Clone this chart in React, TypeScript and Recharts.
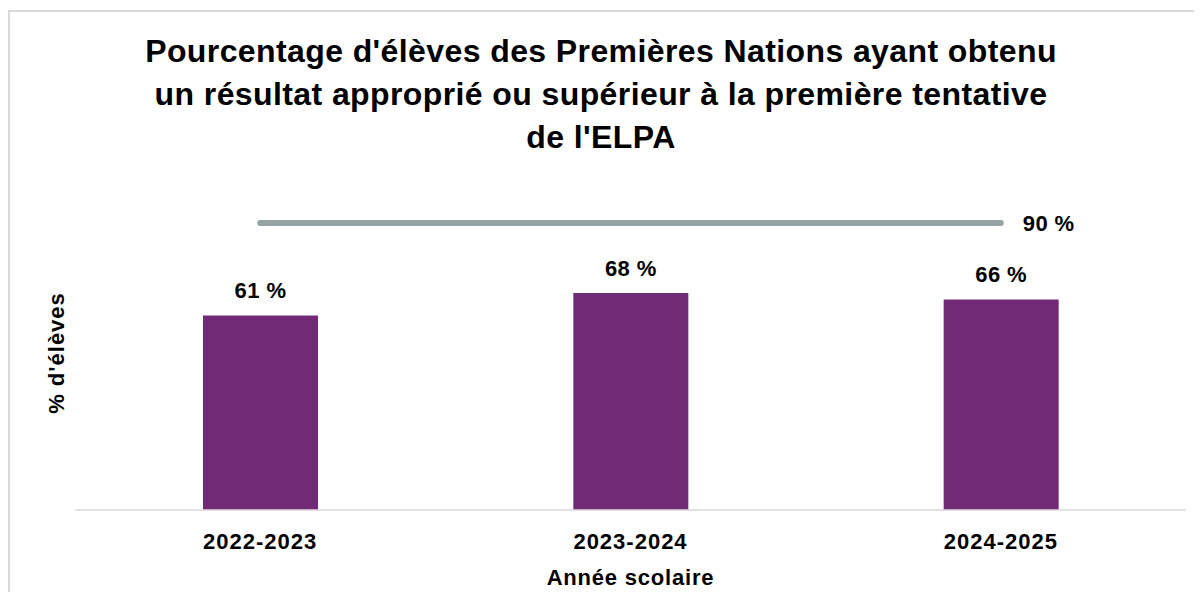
import { ComposedChart, Bar, Line, XAxis, YAxis, LabelList } from 'recharts'

const annees = ['2022-2023', '2023-2024', '2024-2025']
const pourcentages = [61, 68, 66]
const cible = [90, 90, 90]

const titre = [
    "Pourcentage d'élèves des Premières Nations ayant obtenu",
    "un résultat approprié ou supérieur à la première tentative",
    "de l'ELPA",
]

const font = '"Liberation Sans", Arial, sans-serif'

const data = annees.map((annee, i) => ({ annee, valeur: pourcentages[i], cible: cible[i] }))

const BarLabel = (props: any) => {
    const { x, y, width, value } = props
    return (
        <text x={x + width / 2} y={y - 17} textAnchor="middle" fontFamily={font} fontWeight="bold" fontSize={22} letterSpacing={0.4} fill="#000">
            {value} %
        </text>
    )
}

const CibleLabel = (props: any) => {
    const { x, y, value, index } = props
    if (index !== data.length - 1) return null
    return (
        <text x={x + 22} y={y + 8} textAnchor="start" fontFamily={font} fontWeight="bold" fontSize={22} letterSpacing={0.4} fill="#000">
            {value} %
        </text>
    )
}

export default function App() {
    return (
        <div
            style={{
                position: 'relative',
                width: 1192,
                height: 580,
                marginTop: 2,
                borderLeft: '2px solid #d9d9d9',
                borderTop: '2px solid #d9d9d9',
                background: '#fff',
            }}
        >
            <div
                style={{
                    position: 'absolute',
                    left: 0,
                    top: 18,
                    width: 1182,
                    textAlign: 'center',
                    fontFamily: font,
                    fontWeight: 'bold',
                    fontSize: 32,
                    letterSpacing: 0.4,
                    lineHeight: '43px',
                    color: '#000',
                }}
            >
                {titre.map(l => (
                    <div key={l}>{l}</div>
                ))}
            </div>
            <ComposedChart width={1192} height={588} data={data} margin={{ top: 179, right: 16, bottom: 30, left: 65 }}>
                <XAxis
                    dataKey="annee"
                    axisLine={{ stroke: '#d9d9d9', strokeWidth: 1.5 }}
                    tickLine={false}
                    height={60}
                    tick={{ fontFamily: font, fontWeight: 'bold', fontSize: 22, letterSpacing: 1, fill: '#000' }}
                    tickMargin={17}
                    label={{ value: 'Année scolaire', position: 'insideBottom', offset: -15, fontFamily: font, fontWeight: 'bold', fontSize: 22, letterSpacing: 0.8, fill: '#000' }}
                />
                <YAxis domain={[0, 100]} hide />
                <Bar dataKey="valeur" fill="#712a75" barSize={115} isAnimationActive={false}>
                    <LabelList dataKey="valeur" content={<BarLabel />} />
                </Bar>
                <Line
                    dataKey="cible"
                    stroke="#95a3a4"
                    strokeWidth={6}
                    strokeLinecap="round"
                    dot={false}
                    activeDot={false}
                    isAnimationActive={false}
                >
                    <LabelList dataKey="cible" content={<CibleLabel />} />
                </Line>
                <text
                    x={54}
                    y={341}
                    transform="rotate(-90 54 341)"
                    textAnchor="middle"
                    fontFamily={font}
                    fontWeight="bold"
                    fontSize={22}
                    letterSpacing={1}
                    fill="#000"
                >
                    % d'élèves
                </text>
            </ComposedChart>
        </div>
    )
}
